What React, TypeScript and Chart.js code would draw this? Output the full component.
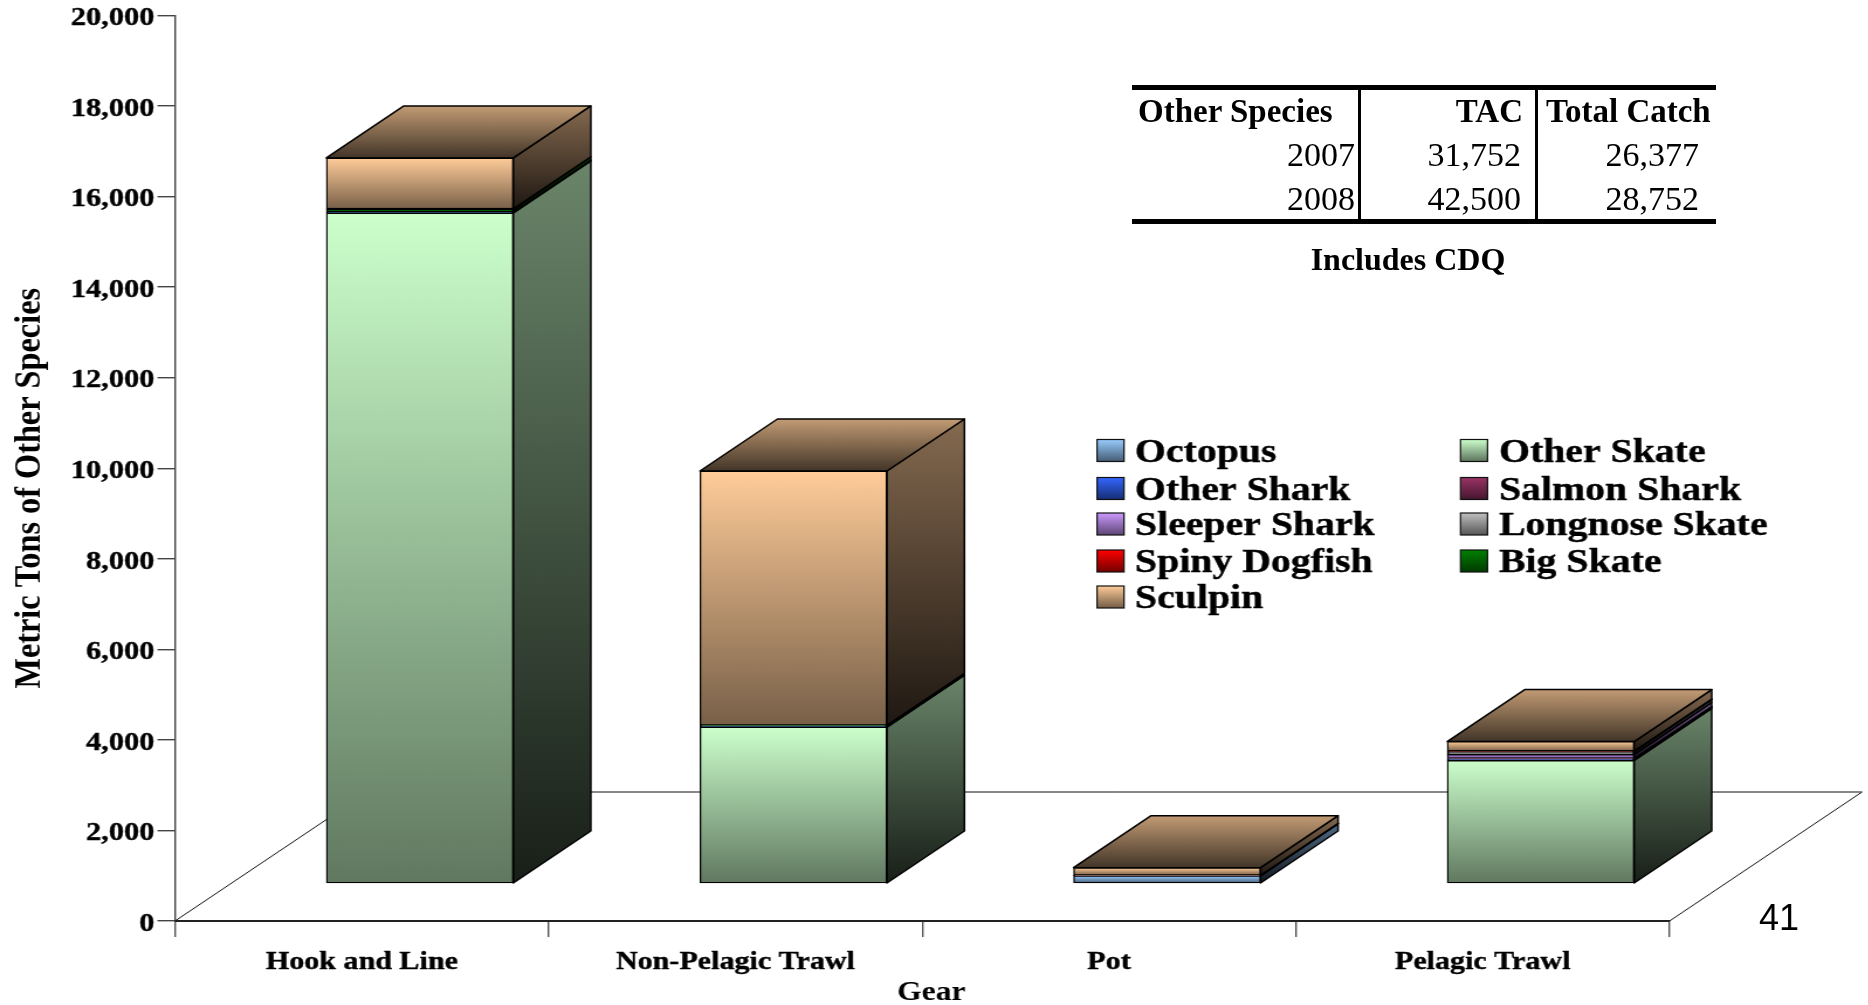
import React, { useEffect, useRef } from "react";
import { Chart, registerables } from "chart.js";

Chart.register(...registerables);

const categories = ["Hook and Line", "Non-Pelagic Trawl", "Pot", "Pelagic Trawl"];
const yTicksMax = 20000;
const yTickStep = 2000;

// stacking order, bottom to top (legend reads across its rows in this order)
const seriesNames = ["Octopus", "Other Skate", "Other Shark", "Salmon Shark", "Sleeper Shark", "Longnose Skate", "Spiny Dogfish", "Big Skate", "Sculpin"];
const seriesColors = ["#99CCFF", "#CCFFCC", "#3366FF", "#993366", "#CC99FF", "#C0C0C0", "#FF0000", "#008000", "#FFCC99"];

const octopus = [0, 0, 160, 0];
const otherSkate = [14800, 3445, 0, 2710];
const otherShark = [20, 10, 0, 25];
const salmonShark = [0, 0, 0, 15];
const sleeperShark = [0, 0, 0, 90];
const longnoseSkate = [0, 0, 5, 60];
const spinyDogfish = [0, 0, 5, 10];
const bigSkate = [70, 30, 0, 5];
const sculpin = [1125, 5615, 170, 210];
const seriesValues = [octopus, otherSkate, otherShark, salmonShark, sleeperShark, longnoseSkate, spinyDogfish, bigSkate, sculpin];

const tableHeader = ["Other Species", "TAC", "Total Catch"];
const tableYears = ["2007", "2008"];
const tableTac = ["31,752", "42,500"];
const tableCatch = ["26,377", "28,752"];
const tableNote = "Includes CDQ";
const yTitle = "Metric Tons of Other Species";
const xTitle = "Gear";
const pageNumber = "41";

const STRETCH = 1.17;
const px = (v: number) => v / STRETCH;
const W = 1596;
const H = 1005;
const AREA_LEFT = px(175);
const AREA_RIGHT = px(1669.5);
const AREA_TOP = 15;
const AREA_BOTTOM = 921;
const CAT_W = (AREA_RIGHT - AREA_LEFT) / 4;
const FLOOR_DX = px(192.5);
const FLOOR_DY = 129;
const BAR_DX = px(77.5);
const BAR_DY = 52;
const BAR_W = px(187);
const BAR_SHIFT_X = px(58);
const BAR_SHIFT_Y = 38;
const UNIT = (AREA_BOTTOM - AREA_TOP) / yTicksMax;
const FONT = '"Liberation Serif"';

function shade(hex: string, f: number) {
  const n = parseInt(hex.slice(1), 16);
  const r = Math.round(((n >> 16) & 255) * f);
  const g = Math.round(((n >> 8) & 255) * f);
  const b = Math.round((n & 255) * f);
  return `rgb(${r},${g},${b})`;
}

function grad(ctx: CanvasRenderingContext2D, y0: number, y1: number, c: string, a: number, b: number) {
  if (!Number.isFinite(y0) || !Number.isFinite(y1)) return c as any;
  const g = ctx.createLinearGradient(0, y0, 0, Math.max(y1, y0 + 0.01));
  g.addColorStop(0, shade(c, a));
  g.addColorStop(1, shade(c, b));
  return g;
}

const poly = (ctx: CanvasRenderingContext2D, pts: number[][]) => {
  ctx.beginPath();
  pts.forEach((p, i) => (i ? ctx.lineTo(p[0], p[1]) : ctx.moveTo(p[0], p[1])));
  ctx.closePath();
};

const scene3d = {
  id: "scene3d",
  beforeDatasetsDraw(chart: any) {
    const { ctx } = chart;
    ctx.save();
    ctx.lineJoin = "round";
    // floor
    ctx.strokeStyle = "#111";
    ctx.lineWidth = 1;
    poly(ctx, [
      [AREA_LEFT, AREA_BOTTOM],
      [AREA_LEFT + FLOOR_DX, AREA_BOTTOM - FLOOR_DY],
      [AREA_RIGHT + FLOOR_DX, AREA_BOTTOM - FLOOR_DY],
      [AREA_RIGHT, AREA_BOTTOM],
    ]);
    ctx.stroke();
    // side and top faces
    ctx.strokeStyle = "#000";
    ctx.lineWidth = 1.5;
    categories.forEach((_, c) => {
      let top: any = null;
      let topColor = "";
      seriesValues.forEach((_v, s) => {
        const el = chart.getDatasetMeta(s).data[c];
        if (!el || !seriesValues[s][c]) return;
        const xr = el.x + BAR_W / 2;
        const yt = el.y;
        const yb = el.base;
        poly(ctx, [[xr, yt], [xr + BAR_DX, yt - BAR_DY], [xr + BAR_DX, yb - BAR_DY], [xr, yb]]);
        ctx.fillStyle = grad(ctx, yt - BAR_DY, yb, seriesColors[s], 0.52, 0.12);
        ctx.fill();
        ctx.stroke();
        top = el;
        topColor = seriesColors[s];
      });
      if (top) {
        const xl = top.x - BAR_W / 2;
        const xr = top.x + BAR_W / 2;
        const y = top.y;
        poly(ctx, [[xl, y], [xl + BAR_DX, y - BAR_DY], [xr + BAR_DX, y - BAR_DY], [xr, y]]);
        ctx.fillStyle = grad(ctx, y - BAR_DY, y, topColor, 0.76, 0.26);
        ctx.fill();
        ctx.stroke();
      }
    });
    ctx.restore();
  },
  afterDraw(chart: any) {
    // legend, read across its rows in stacking order
    const { ctx } = chart;
    const cols = [[px(1097), px(1135)], [px(1460.5), px(1499)]];
    const rows = [450.5, 488.5, 524, 561, 597];
    ctx.save();
    ctx.font = `bold 34px ${FONT}`;
    ctx.textBaseline = "middle";
    ctx.textAlign = "left";
    seriesNames.forEach((name, i) => {
      const [sx, tx] = cols[i % 2];
      const y = rows[Math.floor(i / 2)];
      const w = px(27);
      ctx.fillStyle = grad(ctx, y - 11, y + 11, seriesColors[i], 1, 0.45);
      ctx.fillRect(sx, y - 11, w, 22);
      ctx.strokeStyle = "#111";
      ctx.lineWidth = 1.2;
      ctx.strokeRect(sx, y - 11, w, 22);
      ctx.fillStyle = "#000";
      ctx.strokeStyle = "#000";
      ctx.lineWidth = 0.4;
      ctx.fillText(name, tx, y + 2.5);
      ctx.strokeText(name, tx, y + 2.5);
    });
    ctx.restore();
  },
};

function shiftTitle(scale: any, dx: number, dy: number) {
  const orig = scale.drawTitle;
  if (orig.__shifted) return;
  const wrapped: any = function (this: any, ...a: any[]) {
    const c = this.ctx;
    c.save();
    c.translate(dx, dy);
    orig.apply(this, a);
    c.restore();
  };
  wrapped.__shifted = true;
  scale.drawTitle = wrapped;
}

const abs = (o: any): React.CSSProperties => ({ position: "absolute", whiteSpace: "nowrap", lineHeight: 1, color: "#000", ...o });

export default function App() {
  const ref = useRef<HTMLCanvasElement>(null);

  useEffect(() => {
    const chart = new Chart(ref.current as HTMLCanvasElement, {
      type: "bar",
      plugins: [scene3d],
      data: {
        datasets: seriesNames.map((label, s) => ({
          label,
          xAxisID: "xb",
          yAxisID: "yb",
          data: seriesValues[s].map((y, x) => ({ x, y })),
          borderColor: "#000",
          borderWidth: 1.4,
          borderSkipped: false,
          barThickness: BAR_W,
          backgroundColor: (c: any) => {
            if (c.dataIndex === undefined) return seriesColors[s];
            let lo = 0;
            for (let k = 0; k < s; k++) lo += seriesValues[k][c.dataIndex];
            const hi = lo + seriesValues[s][c.dataIndex];
            const ys = c.chart.scales.yb;
            return grad(c.chart.ctx, ys.getPixelForValue(hi), ys.getPixelForValue(lo), seriesColors[s], 1, 0.47);
          },
        })),
      },
      options: {
        animation: false,
        responsive: false,
        devicePixelRatio: 1,
        layout: { padding: { top: AREA_TOP, left: 0, bottom: 0, right: W - AREA_RIGHT } },
        plugins: { legend: { display: false }, tooltip: { enabled: false }, title: { display: false } },
        scales: {
          x: {
            type: "category",
            labels: categories,
            offset: true,
            position: "bottom",
            border: { color: "#333", width: 2 },
            grid: { offset: true, drawOnChartArea: false, drawTicks: true, tickLength: 16, color: "#555", lineWidth: 1.4 },
            ticks: { font: { family: FONT, weight: "bold", size: 25.7, lineHeight: 1 }, color: "#000", padding: 13, maxRotation: 0, autoSkip: false, textStrokeColor: "#000", textStrokeWidth: 0.4 },
            title: { display: true, text: xTitle, color: "#000", font: { family: FONT, weight: "bold", size: 27, lineHeight: 1 }, padding: 0 },
            afterFit: (s: any) => { s.height = H - AREA_BOTTOM; shiftTitle(s, px(9), 1.5); },
          },
          y: {
            type: "linear",
            min: 0,
            max: yTicksMax,
            position: "left",
            border: { color: "#444", width: 1.4 },
            grid: { drawOnChartArea: false, drawTicks: true, tickLength: 15, color: "#444", lineWidth: 1.4 },
            ticks: { stepSize: yTickStep, font: { family: FONT, weight: "bold", size: 26, lineHeight: 1 }, color: "#000", padding: 2.5, labelOffset: 3, textStrokeColor: "#000", textStrokeWidth: 0.4 },
            title: { display: true, text: yTitle, color: "#000", font: { family: FONT, weight: "bold", size: 32.3, lineHeight: 1 }, padding: 9 },
            afterFit: (s: any) => { s.width = AREA_LEFT; shiftTitle(s, 0, 20); },
          },
          xb: {
            type: "linear",
            display: false,
            stacked: true,
            offset: false,
            min: -0.5 - BAR_SHIFT_X / CAT_W,
            max: 3.5 - BAR_SHIFT_X / CAT_W,
          },
          yb: {
            type: "linear",
            display: false,
            stacked: true,
            min: -BAR_SHIFT_Y / UNIT,
            max: yTicksMax - BAR_SHIFT_Y / UNIT,
          },
        },
      } as any,
    } as any);
    return () => chart.destroy();
  }, []);

  const bold: any = { fontFamily: FONT, fontWeight: "bold", fontSize: 33 };
  const reg: any = { fontFamily: FONT, fontSize: 34 };
  const rule = (o: any) => <div style={{ position: "absolute", background: "#000", ...o }} />;

  return (
    <div style={{ position: "fixed", left: 0, top: 0, width: 1868, height: 1005, overflow: "hidden", background: "#fff" }}>
      <div style={{ position: "absolute", left: 0, top: 0, width: W, height: H, transform: `scaleX(${STRETCH})`, transformOrigin: "0 0" }}>
        <canvas ref={ref} width={W} height={H} style={{ display: "block" }} />
      </div>
      {rule({ left: 1132, top: 85, width: 584, height: 5 })}
      {rule({ left: 1132, top: 219, width: 584, height: 5 })}
      {rule({ left: 1358, top: 87, width: 3, height: 134 })}
      {rule({ left: 1535, top: 87, width: 3, height: 134 })}
      <div style={abs({ ...bold, left: 1138, top: 95 })}>{tableHeader[0]}</div>
      <div style={abs({ ...bold, right: 1868 - 1523, top: 95 })}>{tableHeader[1]}</div>
      <div style={abs({ ...bold, left: 1546, top: 95 })}>{tableHeader[2]}</div>
      {tableYears.map((yr, i) => (
        <React.Fragment key={yr}>
          <div style={abs({ ...reg, right: 1868 - 1355, top: 138 + i * 44 })}>{yr}</div>
          <div style={abs({ ...reg, right: 1868 - 1521, top: 138 + i * 44 })}>{tableTac[i]}</div>
          <div style={abs({ ...reg, right: 1868 - 1699, top: 138 + i * 44 })}>{tableCatch[i]}</div>
        </React.Fragment>
      ))}
      <div style={abs({ ...bold, fontSize: 32, left: 1211, width: 394, textAlign: "center", top: 243 })}>{tableNote}</div>
      <div style={abs({ fontFamily: '"Liberation Sans"', fontSize: 36, left: 1759, top: 900 })}>{pageNumber}</div>
    </div>
  );
}
